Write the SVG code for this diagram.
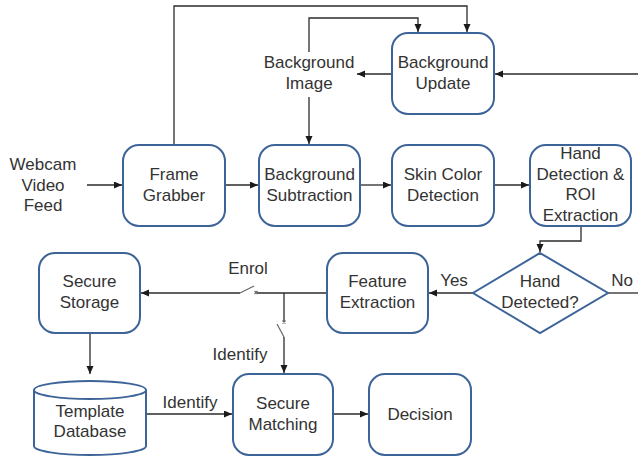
<svg xmlns="http://www.w3.org/2000/svg" width="638" height="457" viewBox="0 0 638 457">
  <style>
    .box { fill: #ffffff; stroke: #3d6499; stroke-width: 2; }
    .lbl { font-family: "Liberation Sans", Arial, sans-serif; font-size: 17px; fill: #333333; text-anchor: middle; }
    .wire { fill: none; stroke: #2b2b2b; stroke-width: 1.3; }
    .sw { fill: none; stroke: #666666; stroke-width: 1.2; }
  </style>
  <defs>
    <marker id="arrow" markerWidth="9" markerHeight="8" refX="8" refY="3.5" orient="auto" markerUnits="userSpaceOnUse">
      <path d="M0,0 L8,3.5 L0,7 Z" fill="#1a1a1a"/>
    </marker>
  </defs>

  <rect width="638" height="457" fill="#ffffff"/>

  <!-- connectors -->
  <g id="connectors">
    <path class="wire" d="M87,185 H122" marker-end="url(#arrow)"/>
    <path class="wire" d="M225,185 H258" marker-end="url(#arrow)"/>
    <path class="wire" d="M360,185 H391" marker-end="url(#arrow)"/>
    <path class="wire" d="M494,185 H529" marker-end="url(#arrow)"/>
    <path class="wire" d="M174,145 V6 H467 V32" marker-end="url(#arrow)"/>
    <path class="wire" d="M309,52 V18 H418 V32" marker-end="url(#arrow)"/>
    <path class="wire" d="M392,74 H357" marker-end="url(#arrow)"/>
    <path class="wire" d="M638,74 H495" marker-end="url(#arrow)"/>
    <path class="wire" d="M309,97 V144" marker-end="url(#arrow)"/>
    <path class="wire" d="M581,226 V241 H540 V252" marker-end="url(#arrow)"/>
    <path class="wire" d="M608,293 H638"/>
    <path class="wire" d="M473,293 H429" marker-end="url(#arrow)"/>
    <!-- enrol / identify switch branch -->
    <path class="wire" d="M327,293 H257"/>
    <path class="sw" d="M240,293 L254,286"/>
    <path class="sw" d="M254.5,291 l3,3 M257.5,291 l-3,3"/>
    <path class="wire" d="M240,293 H141" marker-end="url(#arrow)"/>
    <path class="wire" d="M284,293 V321"/>
    <path class="sw" d="M282.5,320.5 l3,3 M285.5,320.5 l-3,3"/>
    <path class="sw" d="M277,324 L284,337"/>
    <path class="wire" d="M284,337 V373" marker-end="url(#arrow)"/>
    <path class="wire" d="M90,333 V374" marker-end="url(#arrow)"/>
    <path class="wire" d="M146,414 H232" marker-end="url(#arrow)"/>
    <path class="wire" d="M333,414 H368" marker-end="url(#arrow)"/>
  </g>

  <!-- free labels -->
  <g id="label-webcam">
    <text class="lbl" x="43" y="170">Webcam</text>
    <text class="lbl" x="43" y="191">Video</text>
    <text class="lbl" x="43" y="211">Feed</text>
  </g>
  <g id="label-background-image">
    <text class="lbl" x="309" y="68">Background</text>
    <text class="lbl" x="309" y="89">Image</text>
  </g>
  <text class="lbl" x="248" y="274">Enrol</text>
  <text class="lbl" x="240" y="360">Identify</text>
  <text class="lbl" x="190" y="408">Identify</text>
  <text class="lbl" x="454" y="286">Yes</text>
  <text class="lbl" x="622" y="286">No</text>

  <!-- nodes -->
  <g id="background-update">
    <rect class="box" x="392" y="33" width="102" height="81" rx="16"/>
    <text class="lbl" x="443" y="68">Background</text>
    <text class="lbl" x="443" y="89">Update</text>
  </g>
  <g id="frame-grabber">
    <rect class="box" x="123" y="145" width="102" height="81" rx="16"/>
    <text class="lbl" x="174" y="180">Frame</text>
    <text class="lbl" x="174" y="201">Grabber</text>
  </g>
  <g id="background-subtraction">
    <rect class="box" x="259" y="145" width="101" height="81" rx="16"/>
    <text class="lbl" x="309.5" y="180">Background</text>
    <text class="lbl" x="309.5" y="201">Subtraction</text>
  </g>
  <g id="skin-color-detection">
    <rect class="box" x="392" y="145" width="102" height="81" rx="16"/>
    <text class="lbl" x="443" y="180">Skin Color</text>
    <text class="lbl" x="443" y="201">Detection</text>
  </g>
  <g id="hand-detection">
    <rect class="box" x="530" y="145" width="101" height="81" rx="16"/>
    <text class="lbl" x="580.5" y="159">Hand</text>
    <text class="lbl" x="580.5" y="180">Detection &amp;</text>
    <text class="lbl" x="580.5" y="200">ROI</text>
    <text class="lbl" x="580.5" y="221">Extraction</text>
  </g>
  <g id="hand-detected">
    <path class="box" d="M540,253 L608,293 L540,333 L473,293 Z"/>
    <text class="lbl" x="540" y="287">Hand</text>
    <text class="lbl" x="540" y="308">Detected?</text>
  </g>
  <g id="feature-extraction">
    <rect class="box" x="327" y="253" width="101" height="80" rx="16"/>
    <text class="lbl" x="377.5" y="287">Feature</text>
    <text class="lbl" x="377.5" y="308">Extraction</text>
  </g>
  <g id="secure-storage">
    <rect class="box" x="39" y="253" width="101" height="80" rx="16"/>
    <text class="lbl" x="89.5" y="287">Secure</text>
    <text class="lbl" x="89.5" y="308">Storage</text>
  </g>
  <g id="template-database">
    <path class="box" d="M34,390 A56,9 0 0 1 146,390 V446 A56,9 0 0 1 34,446 Z"/>
    <path class="box" d="M34,390 A56,9 0 0 0 146,390" fill="none"/>
    <text class="lbl" x="90" y="417">Template</text>
    <text class="lbl" x="90" y="437">Database</text>
  </g>
  <g id="secure-matching">
    <rect class="box" x="233" y="374" width="100" height="81" rx="16"/>
    <text class="lbl" x="283" y="409">Secure</text>
    <text class="lbl" x="283" y="430">Matching</text>
  </g>
  <g id="decision">
    <rect class="box" x="369" y="374" width="102" height="81" rx="16"/>
    <text class="lbl" x="420" y="420">Decision</text>
  </g>
</svg>
